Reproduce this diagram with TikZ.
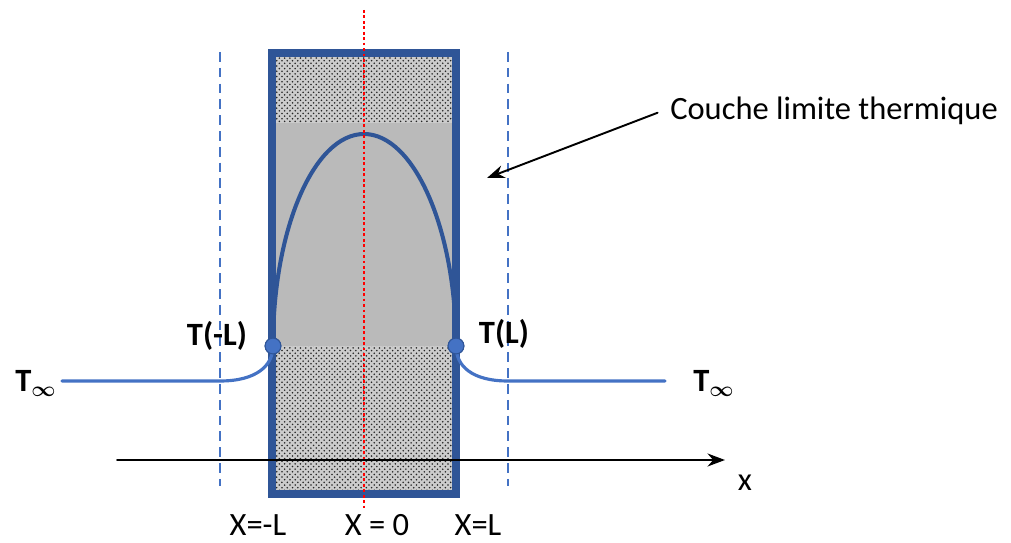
\documentclass[tikz,border=0pt]{standalone}
\usepackage{fontspec}
\setmainfont{Carlito}
\usetikzlibrary{arrows.meta,patterns}

\definecolor{darkblue}{HTML}{2F5597}
\definecolor{lightblue}{HTML}{4472C4}

\begin{document}
\begin{tikzpicture}[x=0.02cm, y=-0.02cm, line cap=round, line join=round, >={Stealth[length=3.5mm, width=2.6mm]},
  lbl/.style={font=\fontsize{18.5}{22}\selectfont, inner sep=0pt},
  boldlbl/.style={font=\fontsize{18.5}{22}\selectfont\bfseries, inner sep=0pt},
  tdot/.style={circle, fill=lightblue, draw=darkblue, line width=0.6pt, minimum size=9pt, inner sep=0pt},
  bound/.style={lightblue, line width=1.2pt, line cap=butt, dash pattern=on 5.5pt off 3.5pt},
  temp/.style={lightblue, line width=1.8pt}]
  \useasboundingbox (0,0) rectangle (1011,543);

  % Plaque: fond pointille en haut et en bas, gris au milieu
  \fill[black!20] (272,53) rectangle (456,494);
  \fill[pattern=crosshatch dots, pattern color=black!85] (272,53) rectangle (456,494);
  \fill[black!27] (272,123) rectangle (456,346);

  % Couche limite (pointilles bleus) et axe de symetrie
  \draw[bound] (220,52) -- (220,486);
  \draw[bound] (508,52) -- (508,486);

  % Points de temperature aux parois
  \coordinate (sommet) at (364,134);
  \node[tdot] (tgauche) at (273,346) {};
  \node[tdot] (tdroite) at (456,346) {};

  % Profil de temperature dans la plaque
  \draw[darkblue, line width=2.3pt] (tgauche.center) .. controls (273,229) and (314,134) .. (sommet)
    .. controls (414,134) and (456,229) .. (tdroite.center);

  % Bord de la plaque
  \draw[darkblue, line width=4.5pt, line cap=butt, line join=miter] (272,53) rectangle (456,494);

  % Profil dans le fluide
  \coordinate (ginf) at (62,381);
  \coordinate (gbord) at (220,381);
  \coordinate (dbord) at (508,381);
  \coordinate (dinf) at (665,381);
  \draw[temp] (ginf) -- (gbord) .. controls (256,381) and (273,366) .. (tgauche.center);
  \draw[temp] (tdroite.center) .. controls (456,366) and (472,381) .. (dbord) -- (dinf);
  \node[tdot] at (tgauche) {};
  \node[tdot] at (tdroite) {};

  % Axe x = 0
  \draw[red, line width=1.6pt, line cap=butt, dash pattern=on 1.6pt off 1.5pt] (364,10) -- (364,508);

  % Axe des x
  \coordinate (xdebut) at (117,460);
  \coordinate (xfin) at (725,460);
  \draw[->, line width=1.1pt] (xdebut) -- (xfin);

  % Textes
  \node[lbl] (xlbl) at (745,483) {x};
  \node[lbl] (xmoins) at (258,525) {X=-L};
  \node[lbl] (xzero) at (377,525) {X = 0};
  \node[lbl] (xplus) at (478,525) {X=L};
  \node[boldlbl] (tmoins) at (217,336) {T(-L)};
  \node[boldlbl] (tplus) at (504,334) {T(L)};
  \node[boldlbl, anchor=base west] (tinfg) at (15,392) {T{\boldmath$_\infty$}};
  \node[boldlbl, anchor=base west] (tinfd) at (693,392) {T{\boldmath$_\infty$}};

  % Legende avec fleche
  \node[lbl] (couche) at (834,111) {Couche limite thermique};
  \coordinate (cible) at (487,178);
  \draw[->, line width=1.1pt] ([xshift=-7pt, yshift=-1pt]couche.west) -- (cible);
\end{tikzpicture}
\end{document}
